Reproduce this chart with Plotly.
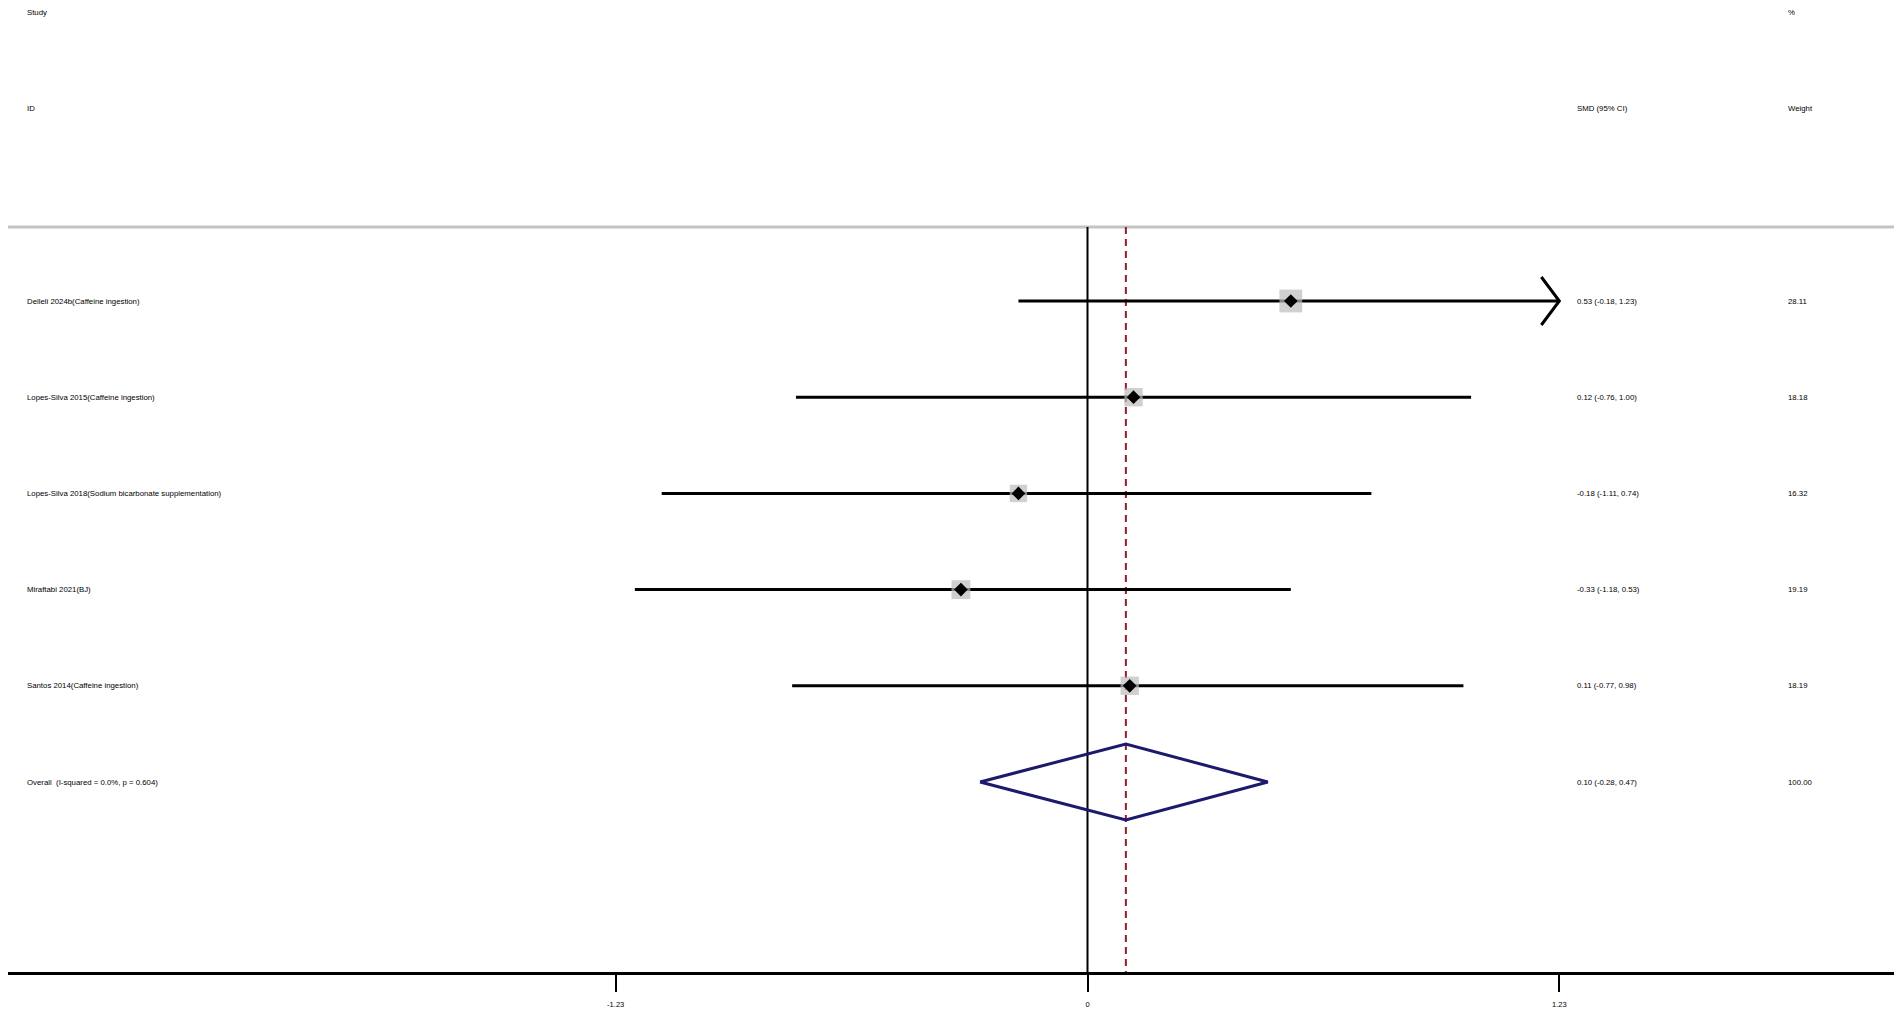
"""
Forest plot: SMD (95% CI) by study, fixed-effect overall estimate
"""
import numpy as np
import plotly.graph_objects as go


studies = [
    'Delleli 2024b(Caffeine ingestion)',
    'Lopes-Silva 2015(Caffeine ingestion)',
    'Lopes-Silva 2018(Sodium bicarbonate supplementation)',
    'Miraftabi 2021(BJ)',
    'Santos 2014(Caffeine ingestion)',
]
smd = [0.53, 0.12, -0.18, -0.33, 0.11]
ci_lower = [-0.18, -0.76, -1.11, -1.18, -0.77]
ci_upper = [1.23, 1.00, 0.74, 0.53, 0.98]
weights = [28.11, 18.18, 16.32, 19.19, 18.19]

overall_label = 'Overall  (I-squared = 0.0%, p = 0.604)'
overall_smd = 0.10
overall_lower = -0.28
overall_upper = 0.47
overall_weight = 100.00

tick_vals = [-1.23, 0, 1.23]
tick_text = ['-1.23', '0', '1.23']

FONT = 'Liberation Sans, Arial, sans-serif'
TEXT_SIZE = 7.8

# page body has an 8px margin, so the figure is laid out 8px smaller
OFF = 8
W, H = 1902 - 2 * OFF, 1015 - OFF
M_L, M_R, M_T, M_B = 0, 0, 0, 1015 - 972
ZERO_PX = 1087.5 - OFF
PX_PER_UNIT = 383.6
ROW0_PX = 301 - OFF
ROW_PX = 96.2
plot_w = W - M_L - M_R
plot_h = H - M_T - M_B
x_range = [-ZERO_PX / PX_PER_UNIT, (plot_w - ZERO_PX) / PX_PER_UNIT]
y_top = -ROW0_PX / ROW_PX
y_bottom = (plot_h - ROW0_PX) / ROW_PX
y_line = (227 - OFF - ROW0_PX) / ROW_PX


def col_x(px):
    return (px - OFF - M_L) / plot_w


def make_figure():
    fig = go.Figure()
    rows = np.arange(len(studies))
    x_max = max(tick_vals)

    # confidence interval lines (with arrow when CI runs off the scale)
    for i, (lo, hi) in enumerate(zip(ci_lower, ci_upper)):
        fig.add_trace(go.Scatter(
            x=[lo, min(hi, x_max)], y=[i, i], mode='lines',
            line=dict(color='black', width=3), hoverinfo='skip'))
        if hi >= x_max:
            dx = 18 / PX_PER_UNIT
            dy = 24 / ROW_PX
            fig.add_trace(go.Scatter(
                x=[x_max - dx, x_max, x_max - dx], y=[i - dy, i, i + dy],
                mode='lines', line=dict(color='black', width=3),
                hoverinfo='skip'))

    # weight boxes
    fig.add_trace(go.Scatter(
        x=smd, y=rows, mode='markers',
        marker=dict(symbol='square', color='#bcbcbc',
                    size=[4.3 * np.sqrt(w) for w in weights],
                    line=dict(width=0)),
        hoverinfo='skip'))
    # point estimates
    fig.add_trace(go.Scatter(
        x=smd, y=rows, mode='markers',
        marker=dict(symbol='diamond', color='black', size=10.5,
                    line=dict(width=0)),
        text=studies, hovertemplate='%{text}<br>SMD %{x:.2f}<extra></extra>'))

    # overall diamond
    yo = len(studies)
    h = 38 / ROW_PX
    fig.add_trace(go.Scatter(
        x=[overall_lower, overall_smd, overall_upper, overall_smd, overall_lower],
        y=[yo, yo - h, yo, yo + h, yo], mode='lines',
        line=dict(color='#1c1a6c', width=3), hoverinfo='skip'))

    shapes = [
        dict(type='line', xref='paper', yref='y', x0=0, x1=1, y0=y_line, y1=y_line,
             line=dict(color='#c4c4c4', width=3), layer='below'),
        dict(type='line', xref='x', yref='y', x0=0, x1=0, y0=y_line, y1=y_bottom,
             line=dict(color='black', width=2), layer='below'),
        dict(type='line', xref='x', yref='y', x0=overall_smd, x1=overall_smd,
             y0=y_line, y1=y_bottom,
             line=dict(color='#8e2027', width=2, dash='7px,5px'), layer='below'),
    ]

    annotations = []

    def txt(x, y, s):
        annotations.append(dict(
            x=x, y=y, xref='paper', yref='y', text=s, showarrow=False,
            xanchor='left', yanchor='middle',
            font=dict(family=FONT, size=TEXT_SIZE, color='black')))

    x_study, x_smd, x_wt = col_x(25), col_x(1575), col_x(1786)
    txt(x_study, -3, 'Study')
    txt(x_study, -2, 'ID')
    txt(x_smd, -2, 'SMD (95% CI)')
    txt(x_wt, -3, '%')
    txt(x_wt, -2, 'Weight')
    for i, name in enumerate(studies):
        txt(x_study, i, name)
        txt(x_smd, i, f'{smd[i]:.2f} ({ci_lower[i]:.2f}, {ci_upper[i]:.2f})')
        txt(x_wt, i, f'{weights[i]:.2f}')
    txt(x_study, yo, overall_label)
    txt(x_smd, yo, f'{overall_smd:.2f} ({overall_lower:.2f}, {overall_upper:.2f})')
    txt(x_wt, yo, f'{overall_weight:.2f}')

    fig.update_layout(
        width=W, height=H,
        margin=dict(l=M_L, r=M_R, t=M_T, b=M_B, pad=0),
        paper_bgcolor='white', plot_bgcolor='white',
        showlegend=False,
        shapes=shapes, annotations=annotations,
        xaxis=dict(range=x_range, showgrid=False, zeroline=False,
                   showline=True, linecolor='black', linewidth=3,
                   ticks='outside', ticklen=17, tickwidth=2, tickcolor='black',
                   ticklabelstandoff=6,
                   tickvals=tick_vals, ticktext=tick_text,
                   tickfont=dict(family=FONT, size=7.5, color='black'),
                   fixedrange=True),
        yaxis=dict(range=[y_bottom, y_top], visible=False, fixedrange=True),
    )
    return fig


def main():
    fig = make_figure()
    fig.write_html('out.html')


if __name__ == '__main__':
    main()
